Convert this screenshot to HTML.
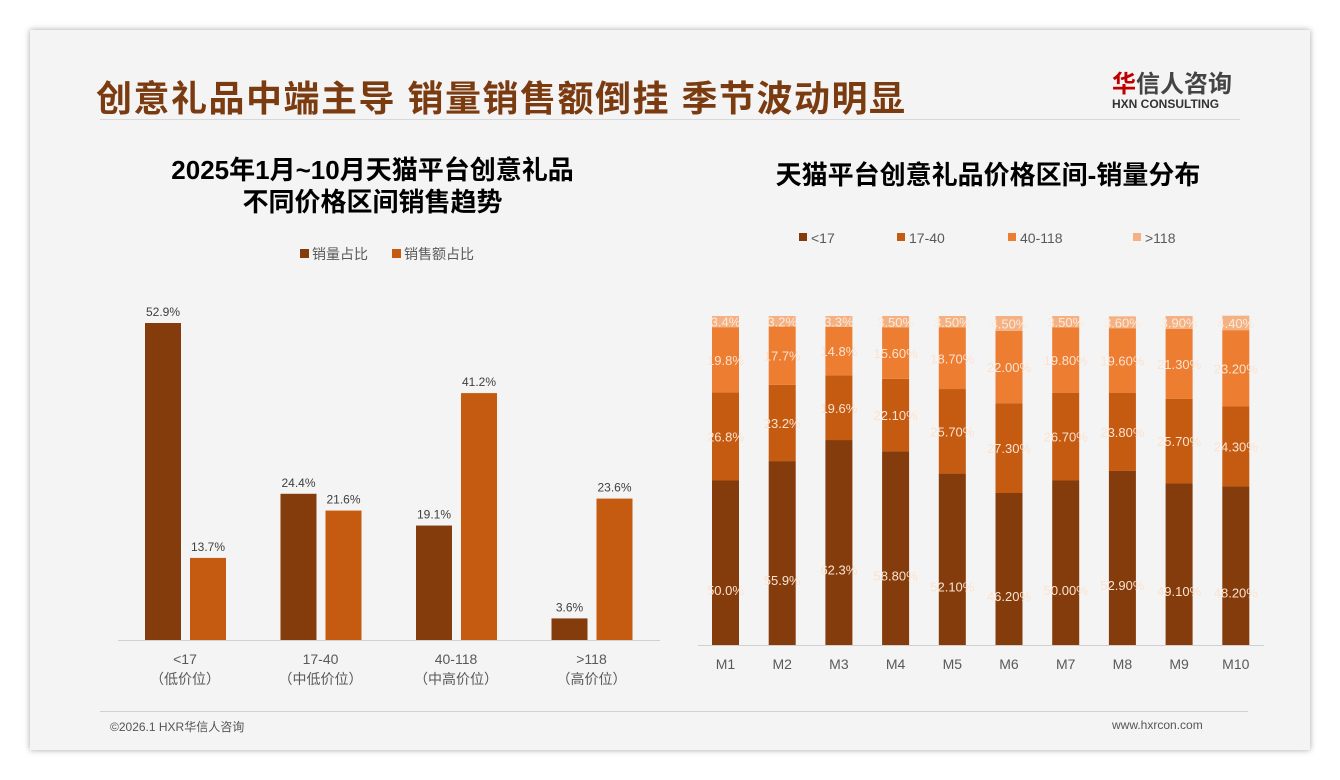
<!DOCTYPE html>
<html><head><meta charset="utf-8"><style>
body{margin:0;width:1340px;height:780px;background:#fff;font-family:"Liberation Sans","Noto Sans CJK SC",sans-serif;position:relative;overflow:hidden}
.card{position:absolute;left:30px;top:30px;width:1280px;height:720px;background:#f4f4f4;box-shadow:0 0 6px rgba(0,0,0,.35)}
.abs{position:absolute}
</style></head><body>
<div class="card"></div>
<div class="abs" style="left:96px;top:70px;font-size:36px;font-weight:bold;color:#7b3b10;letter-spacing:1.5px;white-space:nowrap">创意礼品中端主导 销量销售额倒挂 季节波动明显</div>
<div class="abs" style="left:1112px;top:64px;width:130px">
<div style="font-size:24px;color:#444;font-weight:bold"><span style="color:#c00000">华</span>信人咨询</div>
<div style="font-size:12px;color:#333;font-weight:bold;margin-top:-2px">HXN CONSULTING</div></div>
<div class="abs" style="left:100px;top:119px;width:1140px;height:1px;background:#d8d8d8"></div>
<div class="abs" style="left:100px;top:154px;width:545px;text-align:center;font-size:26px;font-weight:bold;line-height:32px;color:#000">2025年1月~10月天猫平台创意礼品<br>不同价格区间销售趋势</div>
<div class="abs" style="left:688px;top:155px;width:600px;text-align:center;font-size:26px;font-weight:bold;color:#000">天猫平台创意礼品价格区间-销量分布</div>
<div class="abs" style="left:100px;top:711px;width:1148px;height:1px;background:#d0d0d0"></div>
<div class="abs" style="left:110px;top:718px;font-size:12px;color:#555">©2026.1 HXR华信人咨询</div>
<div class="abs" style="left:1112px;top:718px;font-size:12px;color:#555">www.hxrcon.com</div>
<svg class="abs" style="left:0;top:0" width="1340" height="780" id="svg"></svg>
<script>
const leftCats=["<17","17-40","40-118",">118"];
const leftSub=["（低价位）","（中低价位）","（中高价位）","（高价位）"];
const volShare=[52.9,24.4,19.1,3.6];
const salesShare=[13.7,21.6,41.2,23.6];
const months=["M1","M2","M3","M4","M5","M6","M7","M8","M9","M10"];
const seg1=[50.0,55.9,62.3,58.8,52.1,46.2,50.0,52.9,49.1,48.2];
const seg2=[26.8,23.2,19.6,22.1,25.7,27.3,26.7,23.8,25.7,24.3];
const seg3=[19.8,17.7,14.8,15.6,18.7,22.0,19.8,19.6,21.3,23.2];
const seg4=[3.4,3.2,3.3,3.5,3.5,4.5,3.5,3.6,3.9,4.4];
const segLabels=["<17","17-40","40-118",">118"];
const svg=document.getElementById('svg');
const NS="http://www.w3.org/2000/svg";
function mk(t,a,txt){const e=document.createElementNS(NS,t);for(const k in a)e.setAttribute(k,a[k]);if(txt!==undefined)e.textContent=txt;svg.appendChild(e);return e;}
const C1="#843c0c",C2="#c55a11",C3="#ed7d31",C4="#f4b183";
const base=640,ky=317/52.9;
const ly=v=>base-v*ky, lx=i=>181+i*135.5;
let e=mk('line',{x1:118,x2:660,y1:base+0.5,y2:base+0.5,stroke:'#d0d0d0'});

leftCats.forEach((c,i)=>{
 let b=mk('rect',{x:lx(i)-36,y:ly(volShare[i]),width:36,height:volShare[i]*ky,fill:C1});
 
 let t=mk('text',{x:lx(i)-18,y:ly(volShare[i])-7,'font-size':12,fill:'#404040','text-anchor':'middle'},volShare[i].toFixed(1)+'%');
 
 b=mk('rect',{x:lx(i)+9,y:ly(salesShare[i]),width:36,height:salesShare[i]*ky,fill:C2});
 
 t=mk('text',{x:lx(i)+27,y:ly(salesShare[i])-7,'font-size':12,fill:'#404040','text-anchor':'middle'},salesShare[i].toFixed(1)+'%');
 
 t=mk('text',{x:lx(i)+4,y:664,'font-size':14,fill:'#595959','text-anchor':'middle'},c);
 
 t=mk('text',{x:lx(i)+4,y:684,'font-size':14,fill:'#595959','text-anchor':'middle'},leftSub[i]);
 
});
[["销量占比",C1,300],["销售额占比",C2,392]].forEach((l,i)=>{
 let r=mk('rect',{x:l[2],y:249,width:9,height:9,fill:l[1]});
 
 let t=mk('text',{x:l[2]+12,y:259,'font-size':14,fill:'#595959'},l[0]);
 
});
const rb=645,rk=329/100,rx=i=>712+i*56.7;
e=mk('line',{x1:698,x2:1264,y1:rb+0.5,y2:rb+0.5,stroke:'#d0d0d0'});

const segs=[seg1,seg2,seg3,seg4],cols=[C1,C2,C3,C4];
months.forEach((m,i)=>{
 let y=rb;
 segs.forEach((s,k)=>{
  const h=s[i]*rk;y-=h;
  let r=mk('rect',{x:rx(i),y:y,width:27,height:h,fill:cols[k]});
  
  const ty=k===0?y+h*0.5+32:(k===3?y+h/2+5:y+h/2+5);
  let t=mk('text',{x:rx(i)+13.5,y:ty,'font-size':13,fill:k===3?'#fde9d9':'#fbe3d0','text-anchor':'middle'},s[i].toFixed(i>=3?2:1)+'%');
  
 });
 let t=mk('text',{x:rx(i)+13.5,y:669,'font-size':14,fill:'#595959','text-anchor':'middle'},m);
 
});
[0,1,2,3].forEach(k=>{
 const x=[799,897,1008,1133][k];
 let r=mk('rect',{x:x,y:233,width:8,height:8,fill:cols[k]});
 
 let t=mk('text',{x:x+12,y:243,'font-size':14,fill:'#595959'},segLabels[k]);
 
});
</script>
</body></html>
